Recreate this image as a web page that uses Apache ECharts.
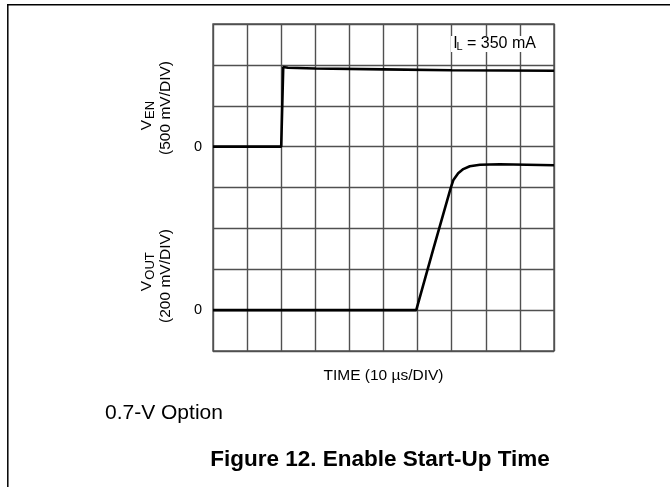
<!DOCTYPE html>
<html><head><meta charset="utf-8">
<script src="https://cdn.jsdelivr.net/npm/echarts@6/dist/echarts.min.js"></script>
<style>html,body{margin:0;padding:0;background:#fff}#c{width:670px;height:487px}</style>
</head><body><div id="c"></div>
<script>
// Time in microseconds (10 us/DIV), voltages in volts
const timeEN = [0, 20.0, 20.6, 22, 30, 50, 70, 100];
const vEN    = [0, 0, 0.975, 0.965, 0.955, 0.945, 0.935, 0.928];
const timeOUT = [0, 59.6, 64.6, 69.7, 70.5, 71.9, 73.4, 75.3, 78.3, 84.1, 100];
const vOUT    = [0, 0, 0.298, 0.597, 0.637, 0.670, 0.690, 0.704, 0.711, 0.714, 0.709];
const zeroLabel = '0';
const xTitle = 'TIME (10 µs/DIV)';
const loadLabel = ['I', 'L', '= 350 mA'];
const enLabel = ['V', 'EN', '(500 mV/DIV)'];
const outLabel = ['V', 'OUT', '(200 mV/DIV)'];
const optionLabel = '0.7-V Option';
const figTitle = 'Figure 12. Enable Start-Up Time';

const FF = '"Liberation Sans", Arial, Helvetica, sans-serif';
const GRID = '#505050';
function T(x, y, text, size, extra, styleExtra) {
  return Object.assign({
    type: 'text', x: x, y: y, z: 100,
    style: Object.assign({
      text: text, font: size + 'px ' + FF, fill: '#000',
      align: 'center', verticalAlign: 'middle',
      textAlign: 'center', textVerticalAlign: 'middle'
    }, styleExtra || {})
  }, extra || {});
}
const L = { align: 'left', textAlign: 'left' };
const ROT = { rotation: Math.PI / 2 };

const chart = echarts.init(document.getElementById('c'));
chart.setOption({
  animation: false,
  backgroundColor: '#fff',
  grid: { left: 213, right: 116, top: 24, bottom: 136, show: true, borderColor: GRID, borderWidth: 1.4 },
  xAxis: {
    type: 'value', min: 0, max: 100, interval: 10,
    axisLine: { show: false }, axisTick: { show: false }, axisLabel: { show: false },
    splitLine: { show: true, lineStyle: { color: GRID, width: 1.4 } },
    name: xTitle, nameLocation: 'middle', nameGap: 17,
    nameTextStyle: { color: '#000', fontSize: 15.5, fontFamily: FF }
  },
  yAxis: [{
    type: 'value', min: -2.5, max: 1.5, interval: 0.5, position: 'left',
    axisLine: { show: false }, axisTick: { show: false },
    axisLabel: { margin: 11, color: '#000', fontSize: 14.5, fontFamily: FF,
      formatter: v => Math.abs(v) < 1e-6 ? zeroLabel : '' },
    splitLine: { show: true, lineStyle: { color: GRID, width: 1.4 } }
  }, {
    type: 'value', min: -0.2, max: 1.4, interval: 0.2, position: 'left',
    axisLine: { show: false }, axisTick: { show: false },
    axisLabel: { margin: 11, color: '#000', fontSize: 14.5, fontFamily: FF,
      formatter: v => Math.abs(v) < 1e-6 ? zeroLabel : '' },
    splitLine: { show: false }
  }],
  series: [{
    type: 'line', yAxisIndex: 0, showSymbol: false, z: 5,
    lineStyle: { color: '#000', width: 2.6 },
    data: timeEN.map((t, i) => [t, vEN[i]])
  }, {
    type: 'line', yAxisIndex: 1, showSymbol: false, z: 5,
    lineStyle: { color: '#000', width: 2.6 },
    data: timeOUT.map((t, i) => [t, vOUT[i]])
  }],
  graphic: [
    { type: 'line', z: 100, shape: { x1: 7, y1: 4.8, x2: 670, y2: 4.8 }, style: { stroke: '#000', lineWidth: 1.5 } },
    { type: 'line', z: 100, shape: { x1: 7.8, y1: 4, x2: 7.8, y2: 487 }, style: { stroke: '#000', lineWidth: 1.5 } },
    { type: 'rect', z: 99, shape: { x: 451, y: 36, width: 87, height: 16 }, style: { fill: '#fff' } },
    T(453.3, 43.2, loadLabel[0], 16, null, L),
    T(456.5, 46.5, loadLabel[1], 11, null, L),
    T(467, 43.2, loadLabel[2], 16, null, L),
    T(147, 125, enLabel[0], 15.5, ROT),
    T(150, 110, enLabel[1], 13, ROT),
    T(166, 108, enLabel[2], 15.5, ROT),
    T(147, 286, outLabel[0], 15.5, ROT),
    T(150, 266, outLabel[1], 13, ROT),
    T(166, 276, outLabel[2], 15.5, ROT),
    T(105, 413.3, optionLabel, 21, null, L),
    T(380, 460, figTitle, 22.5, null, { font: 'bold 22.5px ' + FF })
  ]
});
</script>
</body></html>
